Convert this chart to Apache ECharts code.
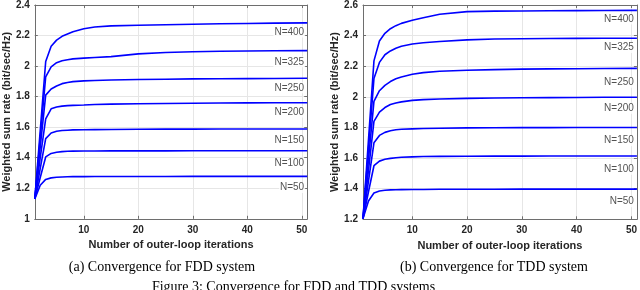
<!DOCTYPE html>
<html><head><meta charset="utf-8">
<script src="https://cdn.jsdelivr.net/npm/echarts@6/dist/echarts.min.js"></script>
<style>html,body{margin:0;padding:0;background:#fff}#c{width:640px;height:290px}</style>
</head><body><div id="c"></div>
<script>
const iterations = [1, 2, 3, 4, 5, 6, 7, 8, 10, 12, 15, 20, 25, 30, 35, 40, 45, 51];
const seriesNames = ['N=400', 'N=325', 'N=250', 'N=200', 'N=150', 'N=100', 'N=50'];

const fdd400 = [1.13, 1.58, 2.03, 2.13, 2.17, 2.195, 2.21, 2.225, 2.245, 2.256, 2.263, 2.267, 2.271, 2.274, 2.277, 2.279, 2.281, 2.283];
const fdd325 = [1.13, 1.53, 1.93, 1.995, 2.022, 2.035, 2.042, 2.047, 2.052, 2.056, 2.062, 2.08, 2.089, 2.094, 2.097, 2.099, 2.1, 2.101];
const fdd250 = [1.13, 1.47, 1.81, 1.85, 1.87, 1.885, 1.893, 1.898, 1.903, 1.906, 1.909, 1.912, 1.914, 1.916, 1.917, 1.918, 1.919, 1.92];
const fdd200 = [1.13, 1.40, 1.655, 1.72, 1.732, 1.738, 1.741, 1.743, 1.745, 1.748, 1.751, 1.753, 1.755, 1.757, 1.758, 1.759, 1.76, 1.76];
const fdd150 = [1.13, 1.33, 1.525, 1.562, 1.573, 1.578, 1.58, 1.582, 1.583, 1.584, 1.585, 1.586, 1.587, 1.587, 1.588, 1.588, 1.588, 1.588];
const fdd100 = [1.13, 1.27, 1.405, 1.428, 1.436, 1.44, 1.442, 1.443, 1.444, 1.444, 1.445, 1.445, 1.445, 1.446, 1.446, 1.446, 1.446, 1.446];
const fdd50  = [1.13, 1.22, 1.258, 1.268, 1.272, 1.274, 1.275, 1.276, 1.276, 1.277, 1.277, 1.277, 1.277, 1.278, 1.278, 1.278, 1.278, 1.278];

const tdd400 = [1.205, 1.72, 2.235, 2.365, 2.415, 2.445, 2.465, 2.48, 2.50, 2.517, 2.54, 2.557, 2.56, 2.561, 2.562, 2.563, 2.564, 2.565];
const tdd325 = [1.205, 1.66, 2.12, 2.225, 2.275, 2.30, 2.318, 2.33, 2.345, 2.353, 2.362, 2.372, 2.378, 2.38, 2.381, 2.382, 2.383, 2.383];
const tdd250 = [1.205, 1.59, 1.97, 2.04, 2.075, 2.10, 2.118, 2.13, 2.148, 2.158, 2.167, 2.174, 2.178, 2.181, 2.183, 2.184, 2.185, 2.186];
const tdd200 = [1.205, 1.52, 1.84, 1.90, 1.93, 1.95, 1.96, 1.967, 1.977, 1.982, 1.986, 1.99, 1.992, 1.994, 1.995, 1.996, 1.997, 1.997];
const tdd150 = [1.205, 1.45, 1.70, 1.748, 1.768, 1.778, 1.785, 1.788, 1.791, 1.793, 1.795, 1.797, 1.798, 1.799, 1.799, 1.8, 1.8, 1.8];
const tdd100 = [1.205, 1.38, 1.55, 1.58, 1.592, 1.598, 1.602, 1.605, 1.608, 1.61, 1.611, 1.612, 1.613, 1.613, 1.614, 1.614, 1.614, 1.614];
const tdd50  = [1.205, 1.32, 1.372, 1.385, 1.39, 1.392, 1.393, 1.394, 1.395, 1.395, 1.396, 1.396, 1.396, 1.397, 1.397, 1.397, 1.397, 1.397];

const fddLabelY = [2.223, 2.028, 1.858, 1.70, 1.515, 1.362, 1.205];
const tddLabelY = [2.509, 2.322, 2.095, 1.925, 1.714, 1.527, 1.315];
const labelX = 51;

const xTicks = [10, 20, 30, 40, 50];
const xTitle = 'Number of outer-loop iterations';
const yTitle = 'Weighted sum rate (bit/sec/Hz)';
const captionA = '(a) Convergence for FDD system';
const captionB = '(b) Convergence for TDD system';
const figCaption = 'Figure 3: Convergence for FDD and TDD systems';

const fddSeries = [fdd400, fdd325, fdd250, fdd200, fdd150, fdd100, fdd50];
const tddSeries = [tdd400, tdd325, tdd250, tdd200, tdd150, tdd100, tdd50];

const SANS = '"Liberation Sans", Arial, sans-serif';
const SERIF = '"Liberation Serif", "Times New Roman", serif';
const AX = '#6e6e6e';
const TXT = '#262626';

function mainX(gi) {
  return {
    type: 'value', gridIndex: gi, min: 1, max: 51,
    axisLine: { show: true, onZero: false, lineStyle: { color: AX, width: 1 } },
    axisTick: { show: true, inside: true, length: 3, customValues: xTicks, lineStyle: { color: AX } },
    axisLabel: { customValues: xTicks, margin: 6, color: TXT, fontFamily: SANS, fontWeight: 'bold', fontSize: 10 },
    splitLine: { show: true, lineStyle: { color: '#e6e6e6', width: 1 } },
    name: xTitle, nameLocation: 'middle', nameGap: 20,
    nameTextStyle: { color: TXT, fontFamily: SANS, fontWeight: 'bold', fontSize: 11 }
  };
}
function topX(gi) {
  return {
    type: 'value', gridIndex: gi, min: 1, max: 51, position: 'top',
    axisLine: { show: true, onZero: false, lineStyle: { color: AX, width: 1 } },
    axisTick: { show: true, inside: true, length: 3, customValues: xTicks, lineStyle: { color: AX } },
    axisLabel: { show: false }, splitLine: { show: false }
  };
}
function mainY(gi, mn, mx, gap) {
  return {
    type: 'value', gridIndex: gi, min: mn, max: mx, interval: 0.2,
    axisLine: { show: true, onZero: false, lineStyle: { color: AX, width: 1 } },
    axisTick: { show: true, inside: true, length: 3, lineStyle: { color: AX } },
    axisLabel: { margin: 5, color: TXT, fontFamily: SANS, fontWeight: 'bold', fontSize: 10,
      formatter: v => String(Math.round(v * 10) / 10) },
    splitLine: { show: true, lineStyle: { color: '#e6e6e6', width: 1 } },
    name: yTitle, nameLocation: 'middle', nameGap: gap,
    nameTextStyle: { color: TXT, fontFamily: SANS, fontWeight: 'bold', fontSize: 11 }
  };
}
function rightY(gi, mn, mx) {
  return {
    type: 'value', gridIndex: gi, min: mn, max: mx, interval: 0.2, position: 'right',
    axisLine: { show: true, onZero: false, lineStyle: { color: AX, width: 1 } },
    axisTick: { show: true, inside: true, length: 3, lineStyle: { color: AX } },
    axisLabel: { show: false }, splitLine: { show: false }
  };
}

const series = [];
function addLines(arrs, xi, yi) {
  arrs.forEach((vals, k) => {
    series.push({
      type: 'line', name: seriesNames[k], xAxisIndex: xi, yAxisIndex: yi,
      data: iterations.map((x, i) => [x, vals[i]]),
      showSymbol: false, symbol: 'none', smooth: false,
      lineStyle: { color: '#0000ff', width: 1.6 }, z: 3
    });
  });
}
function addLabels(ys, xi, yi) {
  series.push({
    type: 'scatter', xAxisIndex: xi, yAxisIndex: yi, symbolSize: 0.1, z: 5,
    data: ys.map((y, k) => ({ value: [labelX, y], name: seriesNames[k] })),
    label: { show: true, position: 'left', distance: 2, formatter: p => p.name,
      color: TXT, fontFamily: SANS, fontSize: 10, backgroundColor: '#fff', padding: [1, 1, 0, 1] }
  });
}
addLines(fddSeries, 0, 0);
addLines(tddSeries, 1, 1);
addLabels(fddLabelY, 0, 0);
addLabels(tddLabelY, 1, 1);

const option = {
  animation: false,
  backgroundColor: '#fff',
  grid: [
    { left: 31.3, top: 5, width: 275.9, height: 213.8 },
    { left: 363, top: 5, width: 275.8, height: 214.3 }
  ],
  xAxis: [mainX(0), mainX(1), topX(0), topX(1)],
  yAxis: [mainY(0, 1, 2.4, 18), mainY(1, 1.2, 2.6, 22), rightY(0, 1, 2.4), rightY(1, 1.2, 2.6)],
  series: series,
  graphic: [
    { type: 'text', x: 162, y: 267.5, style: { text: captionA, align: 'center', verticalAlign: 'middle', fontSize: 14, fontFamily: SERIF, fill: '#000' } },
    { type: 'text', x: 494, y: 267.5, style: { text: captionB, align: 'center', verticalAlign: 'middle', fontSize: 14, fontFamily: SERIF, fill: '#000' } },
    { type: 'text', x: 293.5, y: 287.5, style: { text: figCaption, align: 'center', verticalAlign: 'middle', fontSize: 14, fontFamily: SERIF, fill: '#000' } }
  ]
};
const chart = echarts.init(document.getElementById('c'), null, { renderer: 'canvas' });
chart.setOption(option);
</script>
</body></html>
